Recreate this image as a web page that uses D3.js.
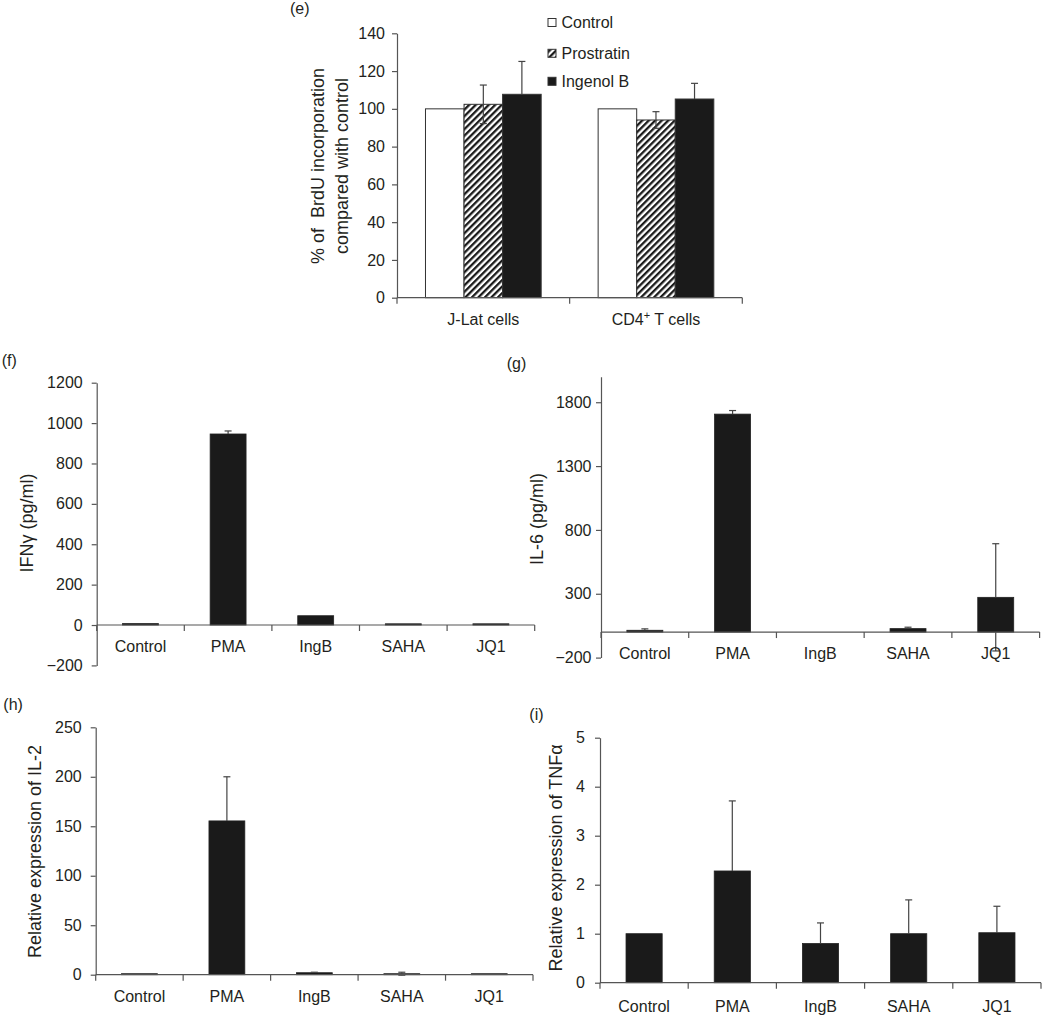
<!DOCTYPE html>
<html>
<head>
<meta charset="utf-8">
<script src="https://cdn.jsdelivr.net/npm/d3@7"></script>
<style>
  html, body { margin: 0; padding: 0; background: #fff; }
  svg { display: block; font-family: "Liberation Sans", Arial, Helvetica, sans-serif; }
  text { fill: #231f20; }
</style>
</head>
<body>
<svg id="chart" width="1050" height="1015"></svg>
<script>
// ---------- DATA ----------
const eCategories = ["J-Lat cells", "CD4+ T cells"];
const eSeries = ["Control", "Prostratin", "Ingenol B"];
const eValues = [[100, 102.4, 107.7], [100, 94.1, 105.2]];
const eErrors = [[0, 10.2, 17.4], [0, 4.4, 8.3]];
const eTicks = [0, 20, 40, 60, 80, 100, 120, 140];

const drugCategories = ["Control", "PMA", "IngB", "SAHA", "JQ1"];

const fValues = [7, 946, 46, 6, 6];
const fErrors = [0, 15, 0, 0, 0];
const fTicks = [-200, 0, 200, 400, 600, 800, 1000, 1200];

const gValues = [14, 1707, 0, 27, 272];
const gErrors = [11, 28, 0, 11, 420];
const gTicks = [-200, 300, 800, 1300, 1800];

const hValues = [1, 155.4, 2, 1, 1];
const hErrors = [0, 44.6, 0.5, 1.5, 0];
const hTicks = [0, 50, 100, 150, 200, 250];

const iValues = [1.0, 2.28, 0.80, 1.0, 1.02];
const iErrors = [0, 1.43, 0.42, 0.69, 0.54];
const iTicks = [0, 1, 2, 3, 4, 5];

// ---------- STYLE ----------
const AXIS = "#555";
const BAR = "#1a1a1a";
const ERR = "#444";

const svg = d3.select("#chart");
const defs = svg.append("defs");
const pat = defs.append("pattern")
  .attr("id", "hatch")
  .attr("patternUnits", "userSpaceOnUse")
  .attr("width", 4.6).attr("height", 4.6)
  .attr("patternTransform", "rotate(45)");
pat.append("rect").attr("width", 4.6).attr("height", 4.6).attr("fill", "#fff");
pat.append("rect").attr("x", 0).attr("y", 0).attr("width", 2.3).attr("height", 4.6).attr("fill", "#1a1a1a");

const fmt = d3.format("d");

function yAxisDraw(g, y, ticks, pad, fs) {
  const ax = g.call(d3.axisLeft(y).tickValues(ticks).tickFormat(fmt)
      .tickSize(5).tickSizeOuter(0).tickPadding(pad));
  ax.select(".domain").attr("stroke", AXIS).attr("stroke-width", 1.2);
  ax.selectAll(".tick line").attr("stroke", AXIS).attr("stroke-width", 1.2);
  ax.selectAll(".tick text").attr("font-size", fs).attr("fill", "#231f20")
    .attr("font-family", "Liberation Sans, Arial, sans-serif");
  return ax;
}

// error bars: the lower whisker is hidden inside dark bars; only the part
// that leaves the bar (below zero) is visible.
function errBars(g, data, xc, y, capW, isDark) {
  const seg = (x1, x2, y1, y2) => g.append("line")
    .attr("x1", x1).attr("x2", x2).attr("y1", y1).attr("y2", y2)
    .attr("stroke", ERR).attr("stroke-width", 1.2);
  data.forEach(d => {
    if (!d.e) return;
    const cx = xc(d);
    const yTop = y(d.v + d.e), yBar = y(d.v), yLow = y(d.v - d.e);
    seg(cx, cx, yTop, yBar);
    seg(cx - capW / 2, cx + capW / 2, yTop, yTop);
    if (!isDark(d)) {
      seg(cx, cx, yBar, yLow);
      seg(cx - capW / 2, cx + capW / 2, yLow, yLow);
    } else if (d.v - d.e < 0) {
      seg(cx, cx, y(0), yLow);
      seg(cx - capW / 2, cx + capW / 2, yLow, yLow);
    }
  });
}

function xBoundaryAxis(g, x, yPos) {
  const half = (x.step() - x.bandwidth()) / 2;
  const r = x.range();
  g.append("line").attr("x1", r[0]).attr("x2", r[1]).attr("y1", yPos).attr("y2", yPos)
    .attr("stroke", AXIS).attr("stroke-width", 1.2);
  const bounds = x.domain().map(d => x(d) - half).concat([r[1]]);
  g.selectAll(null).data(bounds).enter().append("line")
    .attr("x1", d => d).attr("x2", d => d).attr("y1", yPos).attr("y2", yPos + 6)
    .attr("stroke", AXIS).attr("stroke-width", 1.2);
}

function rotatedLabel(x, y, txt, fs) {
  svg.append("text")
    .attr("transform", `translate(${x},${y}) rotate(-90)`)
    .attr("text-anchor", "middle").attr("dominant-baseline", "central")
    .attr("font-size", fs).style("white-space", "pre")
    .text(txt);
}

function panelLabel(x, y, txt) {
  svg.append("text").attr("x", x).attr("y", y).attr("font-size", 16).text(txt);
}

// ---------- PANEL (e) ----------
(function () {
  const y = d3.scaleLinear().domain([0, 140]).range([297.7, 33.3]);
  const x0 = d3.scaleBand().domain(eCategories).range([397, 742.3]).paddingInner(0.33).paddingOuter(0.165);
  const x1 = d3.scaleBand().domain(eSeries).range([0, x0.bandwidth()]);
  const fills = { "Control": "#fff", "Prostratin": "url(#hatch)", "Ingenol B": BAR };
  const g = svg.append("g");

  const data = [];
  eCategories.forEach((c, i) => eSeries.forEach((s, j) =>
    data.push({ c, s, v: eValues[i][j], e: eErrors[i][j] })));

  g.selectAll("rect.bar").data(data).enter().append("rect")
    .attr("class", "bar")
    .attr("x", d => x0(d.c) + x1(d.s))
    .attr("y", d => y(d.v))
    .attr("width", x1.bandwidth())
    .attr("height", d => y(0) - y(d.v))
    .attr("fill", d => fills[d.s])
    .attr("stroke", "#333").attr("stroke-width", 1);

  errBars(g, data, d => x0(d.c) + x1(d.s) + x1.bandwidth() / 2, y, 7, d => d.s === "Ingenol B");

  const ay = g.append("g").attr("transform", "translate(397,0)");
  yAxisDraw(ay, y, eTicks, 7, 16);
  xBoundaryAxis(g, x0, y(0));

  g.selectAll("text.cat").data(eCategories).enter().append("text")
    .attr("class", "cat")
    .attr("x", d => x0(d) + x0.bandwidth() / 2)
    .attr("y", 325)
    .attr("text-anchor", "middle").attr("font-size", 16)
    .each(function (d) {
      const t = d3.select(this);
      if (d.indexOf("+") >= 0) {
        const parts = d.split("+");
        t.append("tspan").text(parts[0]);
        t.append("tspan").attr("dy", -6).attr("font-size", 11).text("+");
        t.append("tspan").attr("dy", 6).text(parts[1]);
      } else {
        t.text(d);
      }
    });

  rotatedLabel(318, 166, "% of  BrdU incorporation", 18);
  rotatedLabel(341.5, 166, "compared with control", 18);

  const leg = g.append("g");
  const legY = [22.5, 53.3, 81.3];
  eSeries.forEach((s, i) => {
    leg.append("rect").attr("x", 548).attr("y", legY[i] - 4).attr("width", 8).attr("height", 8)
      .attr("fill", fills[s]).attr("stroke", "#333").attr("stroke-width", 1);
    leg.append("text").attr("x", 561.5).attr("y", legY[i] + 5.5).attr("font-size", 16).text(s);
  });

  panelLabel(290, 13.5, "(e)");
})();

// ---------- generic drug panel ----------
function drugPanel(cfg) {
  const y = d3.scaleLinear().domain(cfg.yDomain).range(cfg.yRange);
  const x = d3.scaleBand().domain(drugCategories).range(cfg.xRange).paddingInner(0.59).paddingOuter(0.295);
  const g = svg.append("g");
  const data = drugCategories.map((c, i) => ({ c, v: cfg.values[i], e: cfg.errors[i] }));

  g.selectAll("rect.bar").data(data).enter().append("rect")
    .attr("class", "bar")
    .attr("x", d => x(d.c))
    .attr("y", d => Math.min(y(d.v), y(0)))
    .attr("width", x.bandwidth())
    .attr("height", d => Math.abs(y(0) - y(d.v)))
    .attr("fill", BAR)
    .attr("stroke", d => d.v > 0 ? "#222" : "none").attr("stroke-width", 0.8);

  errBars(g, data, d => x(d.c) + x.bandwidth() / 2, y, 7, d => true);

  const ay = g.append("g").attr("transform", `translate(${cfg.xRange[0]},0)`);
  yAxisDraw(ay, y, cfg.ticks, cfg.tickPad, 16);
  xBoundaryAxis(g, x, y(0));

  g.selectAll("text.cat").data(drugCategories).enter().append("text")
    .attr("class", "cat")
    .attr("x", d => x(d) + x.bandwidth() / 2)
    .attr("y", cfg.labelBase)
    .attr("text-anchor", "middle").attr("font-size", 16)
    .text(d => d);

  rotatedLabel(cfg.ylabX, cfg.ylabY, cfg.ylabel, 18);
  panelLabel(cfg.panelX, cfg.panelY, cfg.panel);
}

drugPanel({
  values: fValues, errors: fErrors, ticks: fTicks,
  yDomain: [-200, 1200], yRange: [665.4, 382.7], xRange: [96.7, 534.7],
  tickPad: 9, labelBase: 651.5, ylabel: "IFNγ (pg/ml)", ylabX: 26.7, ylabY: 523,
  panel: "(f)", panelX: 1.7, panelY: 366
});

drugPanel({
  values: gValues, errors: gErrors, ticks: gTicks,
  yDomain: [-200, 2000], yRange: [657.6, 376.7], xRange: [601, 1039.6],
  tickPad: 4.5, labelBase: 658.5, ylabel: "IL-6 (pg/ml)", ylabX: 536.7, ylabY: 519,
  panel: "(g)", panelX: 506.7, panelY: 369
});

drugPanel({
  values: hValues, errors: hErrors, ticks: hTicks,
  yDomain: [0, 250], yRange: [974.7, 727.3], xRange: [95.7, 533],
  tickPad: 9, labelBase: 1001.5, ylabel: "Relative expression of IL-2", ylabX: 35, ylabY: 851.5,
  panel: "(h)", panelX: 3.3, panelY: 710
});

drugPanel({
  values: iValues, errors: iErrors, ticks: iTicks,
  yDomain: [0, 5], yRange: [982.7, 737.7], xRange: [600, 1041],
  tickPad: 10, labelBase: 1011.5, ylabel: "Relative expression of TNFα", ylabX: 555.5, ylabY: 858,
  panel: "(i)", panelX: 529.3, panelY: 720
});
</script>
</body>
</html>
